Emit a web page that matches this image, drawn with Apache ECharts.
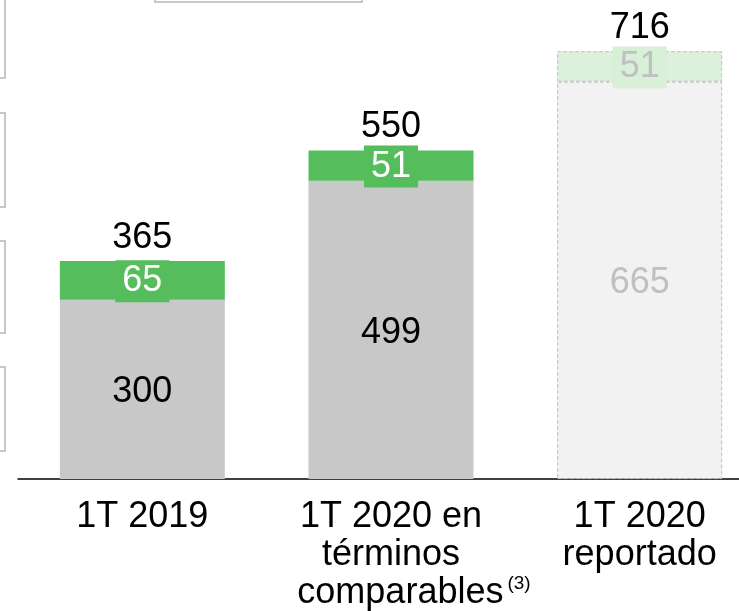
<!DOCTYPE html>
<html>
<head>
<meta charset="utf-8">
<script src="https://cdn.jsdelivr.net/npm/echarts@6/dist/echarts.min.js"></script>
<style>
  html, body { margin: 0; padding: 0; background: #fff; }
  #chart { width: 739px; height: 611px; }
</style>
</head>
<body>
<div id="chart"></div>
<script>
const categories = [
  '1T 2019',
  '1T 2020 en\ntérminos\n{pad|}comparables{sup|(3)}',
  '1T 2020\nreportado'
]
const baseValues = [300, 499, 665]
const deltaValues = [65, 51, 51]
const totalValues = [365, 550, 716]

const green = '#55bd5b'
const grey = '#c8c8c8'
const font = 'Liberation Sans, Arial, sans-serif'

const chart = echarts.init(document.getElementById('chart'))

// the last bar is drawn faded with dashed borders
const faded = i => i === 2

const option = {
  animation: false,
  textStyle: { fontFamily: font },
  grid: { left: 18, width: 746, top: 1, bottom: 132, outerBoundsMode: 'none', containLabel: false },
  xAxis: {
    type: 'category',
    data: categories,
    axisTick: { show: false },
    axisLine: { lineStyle: { color: '#000', width: 1.5 } },
    axisLabel: {
      fontSize: 36,
      lineHeight: 38,
      color: '#000',
      margin: 19,
      interval: 0,
      rich: {
        pad: { width: 46, fontSize: 36 },
        sup: { fontSize: 19, verticalAlign: 'top', padding: [0, 0, 18, 4], color: '#000' }
      }
    }
  },
  yAxis: {
    type: 'value',
    min: 0,
    max: 800,
    show: false,
    splitLine: { show: false }
  },
  series: [
    {
      type: 'bar',
      stack: 'a',
      barWidth: 165,
      data: baseValues.map((v, i) => ({
        value: v,
        itemStyle: faded(i)
          ? { color: '#f2f2f2', borderColor: '#bfbfbf', borderWidth: 1, borderType: 'dashed' }
          : { color: grey },
        label: { color: faded(i) ? '#c0c0c0' : '#000' }
      })),
      label: { show: true, position: 'inside', offset: [0, 3], fontSize: 36, fontFamily: font }
    },
    {
      type: 'bar',
      stack: 'a',
      barWidth: 165,
      data: deltaValues.map((v, i) => ({
        value: v,
        itemStyle: faded(i)
          ? { color: '#dcf0dc', borderColor: '#bfbfbf', borderWidth: 1, borderType: 'dashed' }
          : { color: green },
        label: faded(i)
          ? { color: '#c0c0c0', backgroundColor: '#d8efd8' }
          : { color: '#fff', backgroundColor: green }
      })),
      label: {
        show: true,
        position: 'inside',
        offset: [0, 1],
        fontSize: 36,
        fontFamily: font,
        padding: [3, 7]
      }
    },
    {
      type: 'scatter',
      data: totalValues,
      symbolSize: 0,
      itemStyle: { color: '#000', opacity: 1 },
      label: {
        show: true,
        position: 'top',
        distance: 5,
        fontSize: 36,
        color: '#000',
        fontFamily: font
      },
      z: 5
    }
  ],
  // partial frames from the surrounding slide
  graphic: [
    { type: 'rect', shape: { x: -10, y: -10, width: 15, height: 88 }, style: { fill: 'none', stroke: '#c8c8c8', lineWidth: 2 } },
    { type: 'rect', shape: { x: -10, y: 113, width: 15, height: 94 }, style: { fill: 'none', stroke: '#c8c8c8', lineWidth: 2 } },
    { type: 'rect', shape: { x: -10, y: 241, width: 15, height: 92 }, style: { fill: 'none', stroke: '#c8c8c8', lineWidth: 2 } },
    { type: 'rect', shape: { x: -10, y: 367, width: 15, height: 84 }, style: { fill: 'none', stroke: '#c8c8c8', lineWidth: 2 } },
    { type: 'rect', shape: { x: 155, y: -10, width: 207, height: 12 }, style: { fill: 'none', stroke: '#c8c8c8', lineWidth: 2 } }
  ]
}

chart.setOption(option)
</script>
</body>
</html>
